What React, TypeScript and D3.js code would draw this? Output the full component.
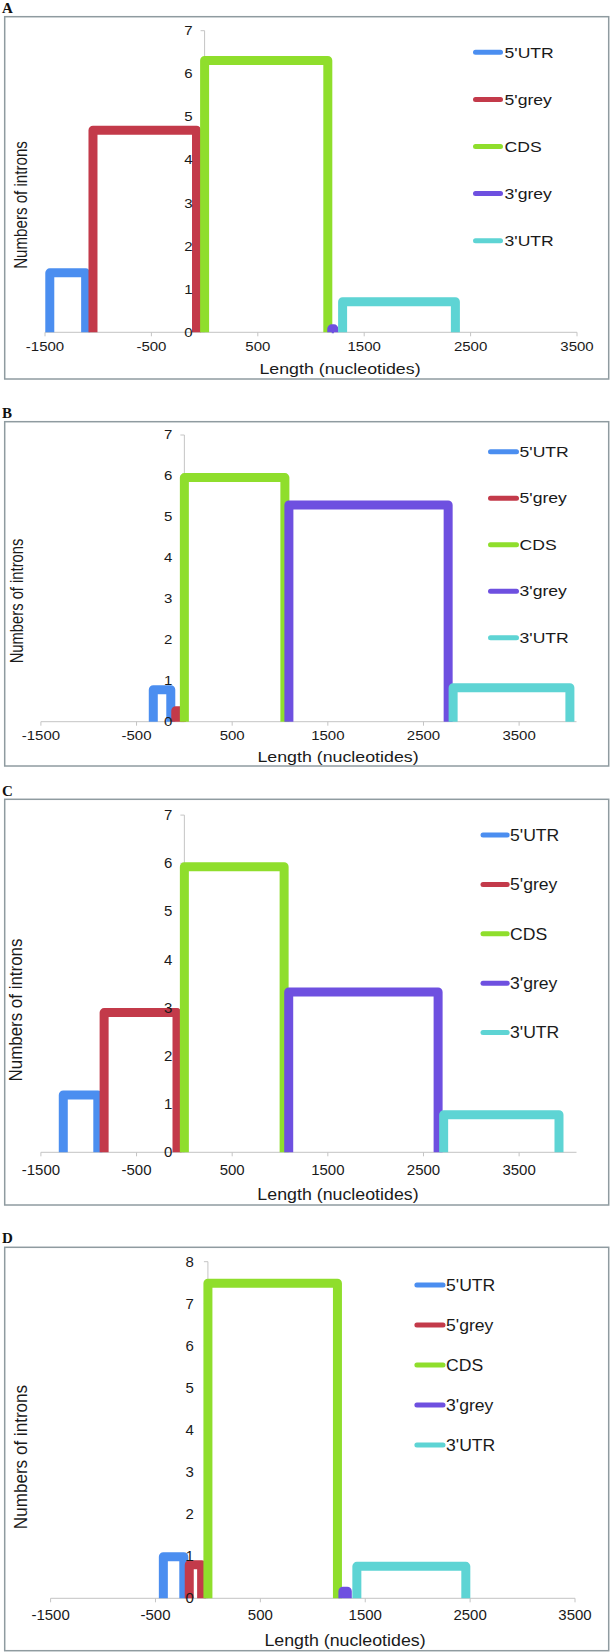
import React from "react";
import * as d3 from "d3";

const seriesNames = ["5'UTR", "5'grey", "CDS", "3'grey", "3'UTR"];
const seriesColors = ["#4b8ef0", "#c33a4a", "#8fde2c", "#6e50e0", "#5ed4d4"];
const xTickValues = [-1500, -500, 500, 1500, 2500, 3500];
const xTitle = "Length (nucleotides)";
const yTitle = "Numbers of introns";

// Panel A: interval start, interval end, number of introns
const startA = [-1455, -1049, 0, 1195, 1297];
const endA = [-1118, -76, 1158, 1215, 2357];
const countA = [1.38, 4.69, 6.31, 0.08, 0.71];
// Panel B
const startB = [-325, -90, 0, 1093, 2810];
const endB = [-142, -30, 1051, 2758, 4031];
const countB = [0.78, 0.27, 5.96, 5.29, 0.83];
// Panel C
const startC = [-1266, -839, 0, 1091, 2711];
const endC = [-905, -77, 1043, 2653, 3917];
const countC = [1.19, 2.9, 5.93, 3.33, 0.78];
// Panel D
const startD = [-425, -178, 0, 1287, 1420];
const endD = [-230, -60, 1235, 1329, 2459];
const countD = [0.99, 0.8, 7.49, 0.17, 0.76];

const FONT = "'Liberation Sans', Arial, Helvetica, sans-serif";

const layouts = [
  { label: "A", labelY: 13, top: 16.7, bottom: 379, xDomain: [-1500, 3500], xRange: [45, 577], yMax: 7, yRange: [332.3, 30.7], vy: 0.85,
    xLabY: 346.7, xTitleX: 340, xTitleY: 369, yTitleX: 21, yTitleY: 205, legX0: 473, legX1: 503, legTX: 504.5, legY0: 52.3, legStep: 47.1, yLabGap: 12 },
  { label: "B", labelY: 417.5, top: 421.7, bottom: 766, xDomain: [-1500, 4100], xRange: [40.9, 576.5], yMax: 7, yRange: [721.7, 435], vy: 0.83,
    xLabY: 736, xTitleX: 338, xTitleY: 757.3, yTitleX: 16.5, yTitleY: 601, legX0: 488, legX1: 519, legTX: 519.5, legY0: 451.7, legStep: 46.5, yLabGap: 12 },
  { label: "C", labelY: 795.5, top: 799.3, bottom: 1205, xDomain: [-1500, 4100], xRange: [40.9, 576.5], yMax: 7, yRange: [1152.3, 815.1], vy: 0.95,
    xLabY: 1170, xTitleX: 338, xTitleY: 1194.3, yTitleX: 16, yTitleY: 1010, legX0: 480.5, legX1: 509.7, legTX: 510, legY0: 835, legStep: 49.4, yLabGap: 12 },
  { label: "D", labelY: 1243, top: 1247.3, bottom: 1650.7, xDomain: [-1500, 3500], xRange: [50.6, 575], yMax: 8, yRange: [1598.3, 1261.7], vy: 0.96,
    xLabY: 1615, xTitleX: 345, xTitleY: 1640, yTitleX: 20.4, yTitleY: 1457, legX0: 414.4, legX1: 445.5, legTX: 446, legY0: 1285, legStep: 40, yLabGap: 14 },
];

const panelData = [
  { start: startA, end: endA, count: countA },
  { start: startB, end: endB, count: countB },
  { start: startC, end: endC, count: countC },
  { start: startD, end: endD, count: countD },
];

function STxt({ x, y, size, sx, anchor = "start", rotate = false, children }: any) {
  return (
    <text
      transform={`translate(${x},${y}) scale(${sx},1)${rotate ? " rotate(-90)" : ""}`}
      fontSize={size}
      textAnchor={anchor}
      dy="0.35em"
      fill="#1a1a1a"
      fontFamily={FONT}
    >
      {children}
    </text>
  );
}

function Panel({ L, D }: any) {
  const x = d3.scaleLinear().domain(L.xDomain).range(L.xRange);
  const y = d3.scaleLinear().domain([0, L.yMax]).range(L.yRange);
  const line = d3.line<[number, number]>().x((d) => x(d[0])).y((d) => y(d[1]));
  const yTicks = d3.range(0, L.yMax + 1);
  const sx = 1 / L.vy;
  const tickSize = 15 * L.vy;
  const titleSize = 17.8 * L.vy;
  const legSize = 17.6 * L.vy;
  const x0 = x(0);
  return (
    <g>
      <text x={2} y={L.labelY} fontFamily="'Liberation Serif', 'Times New Roman', serif" fontWeight="bold" fontSize={15} fill="#111">
        {L.label}
      </text>
      <rect x={4.7} y={L.top} width={604} height={L.bottom - L.top} fill="#fff" stroke="#8f9ba0" strokeWidth={1.5} />
      {/* axes */}
      <line x1={L.xRange[0]} x2={L.xRange[1]} y1={y(0)} y2={y(0)} stroke="#c4c4c4" strokeWidth={1} />
      {xTickValues.map((v) => (
        <line key={"xt" + v} x1={x(v)} x2={x(v)} y1={y(0)} y2={y(0) + 4} stroke="#c4c4c4" strokeWidth={1} />
      ))}
      <line x1={x0} x2={x0} y1={y(0)} y2={y(L.yMax)} stroke="#c4c4c4" strokeWidth={1} />
      {yTicks.map((v) => (
        <line key={"yt" + v} x1={x0 - 4} x2={x0} y1={y(v)} y2={y(v)} stroke="#c4c4c4" strokeWidth={1} />
      ))}
      {/* series */}
      {seriesNames.map((name, i) => {
        const pts: [number, number][] = [
          [D.start[i], 0],
          [D.start[i], D.count[i]],
          [D.end[i], D.count[i]],
          [D.end[i], 0],
        ];
        return (
          <path key={name} d={line(pts) || ""} fill="none" stroke={seriesColors[i]} strokeWidth={9} strokeLinejoin="round" strokeLinecap="butt" />
        );
      })}
      {/* tick labels */}
      {yTicks.map((v) => (
        <STxt key={"yl" + v} x={x0 - L.yLabGap} y={y(v)} size={tickSize} sx={sx} anchor="end">
          {v}
        </STxt>
      ))}
      {xTickValues.map((v) => (
        <STxt key={"xl" + v} x={x(v)} y={L.xLabY} size={tickSize} sx={sx} anchor="middle">
          {v}
        </STxt>
      ))}
      <STxt x={L.xTitleX} y={L.xTitleY} size={titleSize} sx={sx} anchor="middle">
        {xTitle}
      </STxt>
      <STxt x={L.yTitleX} y={L.yTitleY} size={titleSize} sx={sx} anchor="middle" rotate>
        {yTitle}
      </STxt>
      {/* legend */}
      {seriesNames.map((name, i) => {
        const ly = L.legY0 + i * L.legStep;
        return (
          <g key={"lg" + name}>
            <line x1={L.legX0 + 2.5} x2={L.legX1 - 2.5} y1={ly} y2={ly} stroke={seriesColors[i]} strokeWidth={5} strokeLinecap="round" />
            <STxt x={L.legTX} y={ly} size={legSize} sx={sx}>
              {name}
            </STxt>
          </g>
        );
      })}
    </g>
  );
}

export default function App() {
  return (
    <svg width={610} height={1652} viewBox="0 0 610 1652" style={{ position: "absolute", left: 0, top: 0, background: "#fff" }}>
      <rect x={0} y={0} width={610} height={1652} fill="#fff" />
      {layouts.map((L, i) => (
        <Panel key={L.label} L={L} D={panelData[i]} />
      ))}
    </svg>
  );
}
